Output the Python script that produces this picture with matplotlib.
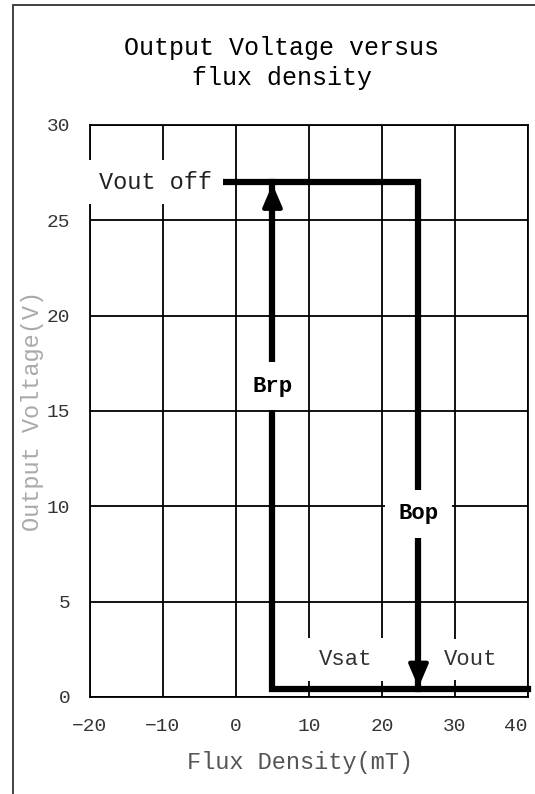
import matplotlib.pyplot as plt
from matplotlib.patches import Rectangle

# Datos de la curva de histéresis
x_ticks = [-20, -10, 0, 10, 20, 30, 40]
y_ticks = [0, 5, 10, 15, 20, 25, 30]

brp = 5        # punto de liberación (mT)
bop = 25       # punto de operación (mT)
v_off = 27     # tensión de salida en off (V)
v_sat = 0.4    # tensión de saturación (V)
x_inicio = -2  # inicio de la línea superior
x_fin = 40     # fin de la línea inferior

FUENTE = 'Liberation Mono'

fig = plt.figure(figsize=(5.35, 7.94), dpi=100)
ax = fig.add_axes([0.1682, 0.1222, 0.8187, 0.7204])

# Marco exterior
fig.patches.append(Rectangle((13 / 535, -0.02), 1.0, 1.02 - 5 / 794, transform=fig.transFigure,
                             fill=False, edgecolor='#333333', linewidth=1.3))

# Curva
ax.plot([x_fin, brp, brp], [v_sat, v_sat, v_off], color='black', linewidth=4.5,
        solid_joinstyle='miter', zorder=3, clip_on=False)
ax.plot([x_inicio, bop, bop], [v_off, v_off, v_sat], color='black', linewidth=4.5,
        solid_joinstyle='miter', zorder=3)

# Flechas
ax.annotate('', xy=(brp, v_off - 0.1), xytext=(brp, v_off - 2),
            arrowprops=dict(arrowstyle='-|>,head_width=0.6,head_length=1.4', color='black',
                            lw=3, shrinkA=0, shrinkB=0), zorder=4)
ax.annotate('', xy=(bop, v_sat + 0.1), xytext=(bop, v_sat + 2),
            arrowprops=dict(arrowstyle='-|>,head_width=0.6,head_length=1.4', color='black',
                            lw=3, shrinkA=0, shrinkB=0), zorder=4)

# Etiquetas
caja = dict(boxstyle='square,pad=0.45', facecolor='white', edgecolor='none')
ax.text(-11, v_off, 'Vout off', fontsize=17, family=FUENTE, color='#222222',
        ha='center', va='center', bbox=caja, zorder=5, clip_on=False)
ax.text(brp, 16.3, 'Brp', fontsize=16, family=FUENTE, fontweight='bold',
        ha='center', va='center', bbox=dict(caja, boxstyle='square,pad=0.6'), zorder=5)
ax.text(bop, 9.6, 'Bop', fontsize=16, family=FUENTE, fontweight='bold',
        ha='center', va='center', bbox=dict(caja, boxstyle='square,pad=0.6'), zorder=5)
ax.text(15, 1.95, 'Vsat', fontsize=16, family=FUENTE, color='#333333',
        ha='center', va='center', bbox=dict(caja, boxstyle='square,pad=0.5'), zorder=5)
ax.text(32.2, 1.95, 'Vout', fontsize=16, family=FUENTE, color='#333333',
        ha='center', va='center', bbox=caja, zorder=5)

# Ejes
ax.set_xlim(-20, 40)
ax.set_ylim(0, 30)
ax.set_xticks(x_ticks)
ax.set_yticks(y_ticks)
ax.set_xticklabels(['\u221220', '\u221210', '0', '10', '20', '30', '40'])
ax.tick_params(length=0, labelsize=14, colors='#333333')
ax.tick_params(axis='x', pad=15)
ax.tick_params(axis='y', pad=14)
for lab in ax.get_xticklabels() + ax.get_yticklabels():
    lab.set_family(FUENTE)
ax.get_xticklabels()[-1].set_horizontalalignment('right')
for s in ax.spines.values():
    s.set_linewidth(1.3)
    s.set_zorder(1)
ax.set_axisbelow(True)
ax.grid(True, color='black', linewidth=1.3)

ax.set_xlabel('Flux Density(mT)', fontsize=17, family=FUENTE, color='#555555')
ax.xaxis.set_label_coords(0.48, -0.095)
ax.set_ylabel('Output Voltage(V)', fontsize=17, family=FUENTE, color='#aaaaaa', labelpad=2)

# Título
fig.text(0.527, 0.921, 'Output Voltage versus\nflux density', fontsize=18, family=FUENTE,
         ha='center', va='center', linespacing=1.3, color='black')

plt.savefig('out.png', dpi=100)
